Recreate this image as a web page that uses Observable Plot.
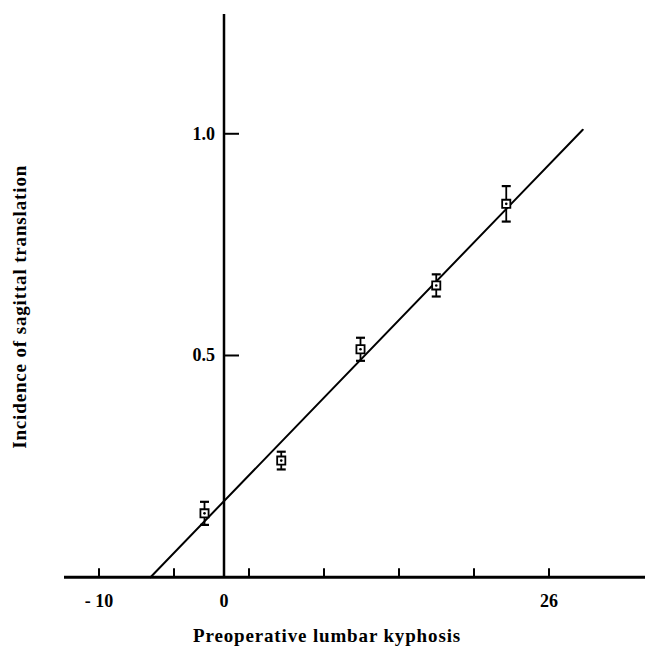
<!DOCTYPE html>
<html>
<head>
<meta charset="utf-8">
<script src="https://cdn.jsdelivr.net/npm/d3@7"></script>
<script src="https://cdn.jsdelivr.net/npm/@observablehq/plot@0.6"></script>
<style>
  html, body { margin: 0; padding: 0; background: #fff; }
  svg { display: block; }
</style>
</head>
<body>
<div id="chart"></div>
<script>
// Data
const kyphosis = [-1.56, 4.58, 10.92, 16.98, 22.58];
const incidence = [0.144, 0.263, 0.514, 0.658, 0.842];
const errors = [0.026, 0.020, 0.026, 0.025, 0.040];

const fitX = [-5.88, 28.70];
const fitY = [0, 1.009];

const xTicks = [-10, -4, 2, 8, 14, 20, 26];
const xLabelValues = [-10, 0, 26];
const xLabelTexts = ["- 10", "0", "26"];
const yTicks = [0.5, 1.0];
const yTickTexts = ["0.5", "1.0"];

const xTitle = "Preoperative lumbar kyphosis";
const yTitle = "Incidence of sagittal translation";

// Build tables
const points = kyphosis.map((x, i) => ({x, y: incidence[i], lo: incidence[i] - errors[i], hi: incidence[i] + errors[i]}));
const fit = fitX.map((x, i) => ({x, y: fitY[i]}));
const xLabels = xLabelValues.map((v, i) => ({v, t: xLabelTexts[i]}));
const yLabels = yTicks.map((v, i) => ({v, t: yTickTexts[i]}));

// Symbols (pixel-sized)
const capSymbol = {draw(ctx) { ctx.moveTo(-4.5, 0); ctx.lineTo(4.5, 0); }};
const xTickSymbol = {draw(ctx) { ctx.moveTo(0, 0); ctx.lineTo(0, -9); }};
const yTickSymbol = {draw(ctx) { ctx.moveTo(0, 0); ctx.lineTo(15, 0); }};

const font = "Liberation Serif, Times New Roman, serif";

const chart = Plot.plot({
  width: 645,
  height: 646,
  marginLeft: 0,
  marginRight: 0,
  marginTop: 14,
  marginBottom: 69.3,
  style: {fontFamily: font, background: "#fff"},
  x: {domain: [-17.88, 33.72], axis: null},
  y: {domain: [0, 1.269], axis: null},
  marks: [
    // axes lines
    Plot.ruleY([0], {x1: -12.76, x2: 33.72, stroke: "#000", strokeWidth: 3}),
    Plot.ruleX([0], {y1: 0, y2: 1.269, stroke: "#000", strokeWidth: 2.5}),
    // ticks
    Plot.dot(xTicks, {x: d => d, y: 0, symbol: xTickSymbol, stroke: "#000", strokeWidth: 2, fill: "none", r: 5}),
    Plot.dot(yTicks, {x: 0, y: d => d, symbol: yTickSymbol, stroke: "#000", strokeWidth: 2, fill: "none", r: 5}),
    // tick labels
    Plot.text(xLabels, {x: "v", y: 0, text: "t", dy: 24, fontSize: 18, fontWeight: "bold", fill: "#000", style: "letter-spacing:0.4px"}),
    Plot.text(yLabels, {x: 0, y: "v", text: "t", dx: -9, textAnchor: "end", fontSize: 18, fontWeight: "bold", fill: "#000"}),
    // regression line
    Plot.line(fit, {x: "x", y: "y", stroke: "#000", strokeWidth: 2}),
    // error bars
    Plot.ruleX(points, {x: "x", y1: "lo", y2: "hi", stroke: "#000", strokeWidth: 1.8}),
    Plot.dot(points, {x: "x", y: "lo", symbol: capSymbol, stroke: "#000", strokeWidth: 2.2, fill: "none", r: 5}),
    Plot.dot(points, {x: "x", y: "hi", symbol: capSymbol, stroke: "#000", strokeWidth: 2.2, fill: "none", r: 5}),
    // squares
    Plot.dot(points, {x: "x", y: "y", symbol: "square", r: 4.6, fill: "#fff", stroke: "#000", strokeWidth: 1.8}),
    Plot.dot(points, {x: "x", y: "y", r: 1.3, fill: "#000", stroke: "none"}),
    // titles
    Plot.text([xTitle], {frameAnchor: "bottom", text: d => d, textAnchor: "middle", dx: 4, dy: 65, fontSize: 19, fontWeight: "bold", fill: "#000"}),
    Plot.text([yTitle], {frameAnchor: "left", text: d => d, textAnchor: "middle", rotate: -90, dx: 19, dy: 11, fontSize: 19, fontWeight: "bold", fill: "#000"})
  ]
});

document.getElementById("chart").appendChild(chart);
// widen title letter spacing to match the reference's wider type
chart.querySelectorAll("text").forEach(t => {
  if (t.textContent === xTitle || t.textContent === yTitle) t.setAttribute("letter-spacing", "0.85");
});
</script>
</body>
</html>
